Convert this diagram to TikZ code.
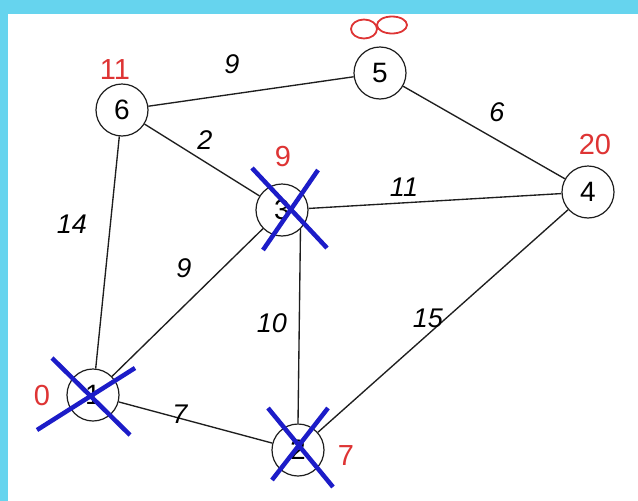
\documentclass[tikz,border=0pt]{standalone}
\usepackage{fontspec}
\setmainfont{Liberation Sans}
\definecolor{frame}{RGB}{102,212,238}
\definecolor{distred}{RGB}{222,52,52}
\definecolor{crossblue}{RGB}{28,28,200}
\definecolor{edgegray}{RGB}{30,30,30}
\begin{document}
\begin{tikzpicture}[x=1pt,y=-1pt,
  vert/.style={circle,draw=edgegray,line width=1.2pt,minimum size=52pt,inner sep=0pt,font=\fontsize{28}{28}\selectfont},
  edge/.style={draw=edgegray,line width=1.35pt},
  wt/.style={font=\fontsize{27}{27}\selectfont\itshape,inner sep=0pt},
  dist/.style={text=distred,font=\fontsize{29}{29}\selectfont,inner sep=0pt},
  cross/.style={draw=crossblue,line width=4.5pt}]
\useasboundingbox (0,0) rectangle (638,501);
\fill[white] (0,0) rectangle (638,501);
\fill[frame] (0,0) rectangle (638,14);
\fill[frame] (0,0) rectangle (8,501);

\node[vert] (n6) at (122,110) {6};
\node[vert] (n5) at (380,73) {5};
\node[vert] (n4) at (588,192) {4};
\node[vert] (n3) at (282,210) {3};
\node[vert] (n1) at (93,395) {1};
\node[vert] (n2) at (298,450) {2};

\draw[edge] (n6) -- (n5);
\draw[edge] (n5) -- (n4);
\draw[edge] (n6) -- (n3);
\draw[edge] (n3) -- (n4);
\draw[edge] (n6) -- (n1);
\draw[edge] (n1) -- (n3);
\draw[edge] (n3.-46) -- (n2.north);
\draw[edge] (n4) -- (n2);
\draw[edge] (n1) -- (n2);

\node[wt] (w65) at (232,64) {9};
\node[wt] (w54) at (497,112) {6};
\node[wt] (w63) at (205,140) {2};
\node[wt] (w34) at (404,187) {11};
\node[wt] (w61) at (72,224) {14};
\node[wt] (w13) at (184,268) {9};
\node[wt] (w32) at (272,323) {10};
\node[wt] (w42) at (428,318) {15};
\node[wt] (w12) at (180,414) {7};

\node[dist] (d6) at (115,70) {11};
\node[dist] (d3) at (283,157) {9};
\node[dist] (d4) at (595,145) {20};
\node[dist] (d1) at (42,396) {0};
\node[dist] (d2) at (346,456) {7};
\draw[distred,line width=1.8pt] (364,29) ellipse (13 and 9.5);
\draw[distred,line width=1.8pt] (392,25) ellipse (15 and 8.5);

\coordinate (a1) at (252,168); \coordinate (a2) at (327,248);
\coordinate (a3) at (318,170); \coordinate (a4) at (263,250);
\draw[cross] (a1) -- (a2); \draw[cross] (a3) -- (a4);
\coordinate (b1) at (52,358); \coordinate (b2) at (130,435);
\coordinate (b3) at (135,368); \coordinate (b4) at (37,430);
\draw[cross] (b1) -- (b2); \draw[cross] (b3) -- (b4);
\coordinate (c1) at (268,408); \coordinate (c2) at (333,487);
\coordinate (c3) at (328,408); \coordinate (c4) at (272,480);
\draw[cross] (c1) -- (c2); \draw[cross] (c3) -- (c4);
\end{tikzpicture}
\end{document}
